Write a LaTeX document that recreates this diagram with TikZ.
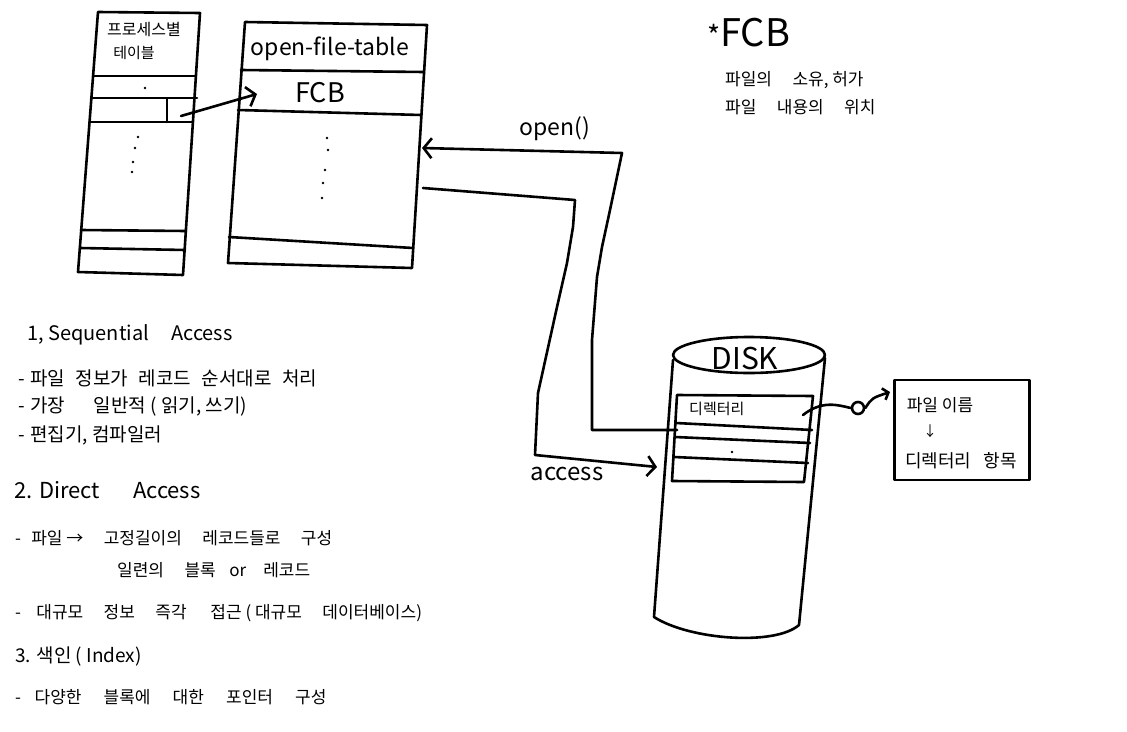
\documentclass[tikz,border=0pt]{standalone}
\usepackage{fontspec}
\setmainfont{Noto Sans CJK KR}
\usetikzlibrary{arrows.meta,calc}
\tikzset{
  ink/.style={line width=2.6pt, line join=round, line cap=round},
  barb/.style={-{Straight Barb[length=8pt,width=20pt]}},
  smallbarb/.style={-{Straight Barb[length=5pt,width=12pt]}},
  txt/.style={inner sep=0pt, anchor=west, font=\fontsize{19}{21}\selectfont},
  dtxt/.style={inner sep=0pt, anchor=west, font=\fontsize{17}{19}\selectfont},
  head/.style={inner sep=0pt, anchor=west, font=\fontsize{20}{22}\selectfont},
  lbl/.style={inner sep=0pt},
}
\newcommand{\fs}[1]{\fontsize{#1}{#1}\selectfont}
\newcommand{\wsp}[1]{\hspace{#1em}}
\begin{document}
\begin{tikzpicture}[x=1pt,y=-1pt]
\fill[white] (0,0) rectangle (1127,731);
\useasboundingbox (0,0) rectangle (1127,731);

% ---------- per-process table ----------
\coordinate (ptTL) at (98,12);
\coordinate (ptTR) at (200,13);
\coordinate (ptBR) at (183,275);
\coordinate (ptBL) at (78,272);
\draw[ink] (ptTL) -- (ptTR) -- (ptBR) -- (ptBL) -- cycle;
\draw[ink] (93,76) -- (196,76);
\draw[ink] (91,98) -- (197,98);
\draw[ink] (89.5,122) -- (193,122);
\draw[ink] (167,99) -- (167,122);
\draw[ink] (81,230) -- (186,231);
\draw[ink] (80,248) -- (185,250);
\node[lbl, font=\fs{16}] (ptH1) at (144,30) {프로세스별};
\node[lbl, font=\fs{15}] (ptH2) at (134,53) {테이블};
\foreach \p in {(145,88),(138,137),(135,148),(133,162),(132,172)}
  \fill \p circle[radius=1.3pt];

% ---------- open-file-table ----------
\coordinate (oTL) at (245,22);
\coordinate (oTR) at (427,25);
\coordinate (oBR) at (412,268);
\coordinate (oBL) at (228,263);
\draw[ink] (oTL) -- (oTR) -- (oBR) -- (oBL) -- cycle;
\draw[ink] (241,70) -- (424,72);
\draw[ink] (238,110) -- (421,115);
\draw[ink] (229,237) -- (413,248);
\node[lbl, font=\fs{23}] (oftH) at (330,49) {open-file-table};
\node[lbl, font=\fs{27}] (fcb) at (320,93) {FCB};
\foreach \p in {(327,138),(328,150),(325,170),(323,183),(322,198)}
  \fill \p circle[radius=1.3pt];

% arrow process table -> FCB
\coordinate (ptCell) at (181,116);
\coordinate (fcbIn) at (257,94);
\draw[ink,barb] (ptCell) -- (fcbIn);

% ---------- FCB note ----------
\node[inner sep=0pt, anchor=west] (fcbNote) at (707,33) {{\fs{28}*}{\fs{38}FCB}};
\node[inner sep=0pt, anchor=west, font=\fs{17}] (note1) at (725,80) {파일의\wsp{1.2}소유, 허가};
\node[inner sep=0pt, anchor=west, font=\fs{17}] (note2) at (725,107) {파일\wsp{1.2}내용의\wsp{1.2}위치};

% ---------- DISK ----------
\draw[ink] (749,355) ellipse [x radius=76pt, y radius=18pt];
\draw[ink] (673,360) -- (654,617) .. controls (690,640) and (775,646) .. (799,625) -- (825,358);
\node[lbl, font=\fs{30}] (disk) at (745,358) {DISK};
\draw[ink] (677,395) -- (813,396) -- (804,482) -- (672,481) -- cycle;
\draw[ink] (676,423) -- (812,430);
\draw[ink] (675,437) -- (810,443);
\draw[ink] (674,457) -- (808,463);
\node[inner sep=0pt, anchor=west, font=\fs{15}] (dirTxt) at (689,409) {디렉터리};
\fill (732,452) circle[radius=1.3pt];

% open() connector
\coordinate (oftR1) at (422,148);
\coordinate (diskRow2) at (677,430);
\draw[ink,barb] (diskRow2) -- (592,430) -- (592,340) -- (597,277) -- (602,247) -- (610,210) -- (622,153) -- (oftR1);
\node[lbl, font=\fs{23}] (openLbl) at (555,129) {open()};

% access connector
\coordinate (oftR2) at (423,188);
\coordinate (diskIn) at (657,467);
\draw[ink,barb] (oftR2) -- (575,200) -- (573,227) -- (567,263) -- (557,307) -- (538,393) -- (535,455) -- (diskIn);
\node[lbl, font=\fs{24}] (accessLbl) at (567,474) {access};

% directory -> file name box
\node[draw, ink, minimum width=135pt, minimum height=100pt] (fnbox) at (962,430) {};
\node[lbl, font=\fs{17}] (fn1) at (940,405) {파일 이름};
\node[lbl, font=\fs{14}] (fnArr) at (930,431) {↓};
\node[lbl, font=\fs{18}] (fn2) at (961,461) {디렉터리\wsp{0.7}항목};
\coordinate (dirOut) at (803,415);
\node[draw, ink, circle, minimum size=12pt, inner sep=0pt] (circ) at (858,408) {};
\coordinate (fnIn) at (890,392);
\draw[ink] (dirOut) .. controls (822,400) and (838,405) .. (circ.west);
\draw[ink,smallbarb] (circ.east) .. controls (872,398) .. (fnIn);

% ---------- text list ----------
\node[head] (l1) at (27,335) {1, Sequential\wsp{1.1}Access};
\node[txt] (l2) at (18,378) {-\wsp{0.3}파일\wsp{0.55}정보가\wsp{0.55}레코드\wsp{0.55}순서대로\wsp{0.55}처리};
\node[txt] (l3) at (18,406) {-\wsp{0.3}가장\wsp{1.5}일반적 ( 읽기, 쓰기)};
\node[txt] (l4) at (18,435) {-\wsp{0.3}편집기, 컴파일러};
\node[inner sep=0pt, anchor=west, font=\fs{22}] (l5) at (14,490) {2. Direct\wsp{1.5}Access};
\node[dtxt] (l6) at (15,538) {-\wsp{0.6}파일 →\wsp{1.2}고정길이의\wsp{1.2}레코드들로\wsp{1.2}구성};
\node[dtxt] (l7) at (117,570) {일련의\wsp{1.2}블록\wsp{0.8}or\wsp{1}레코드};
\node[dtxt] (l8) at (15,613) {-\wsp{0.9}대규모\wsp{1.2}정보\wsp{1.2}즉각\wsp{1.4}접근 ( 대규모\wsp{1.2}데이터베이스)};
\node[inner sep=0pt, anchor=west, font=\fs{19}] (l9) at (15,657) {3. 색인 ( Index)};
\node[dtxt] (l10) at (15,697) {-\wsp{0.8}다양한\wsp{1.3}블록에\wsp{1.3}대한\wsp{1.3}포인터\wsp{1.3}구성};
\end{tikzpicture}
\end{document}
